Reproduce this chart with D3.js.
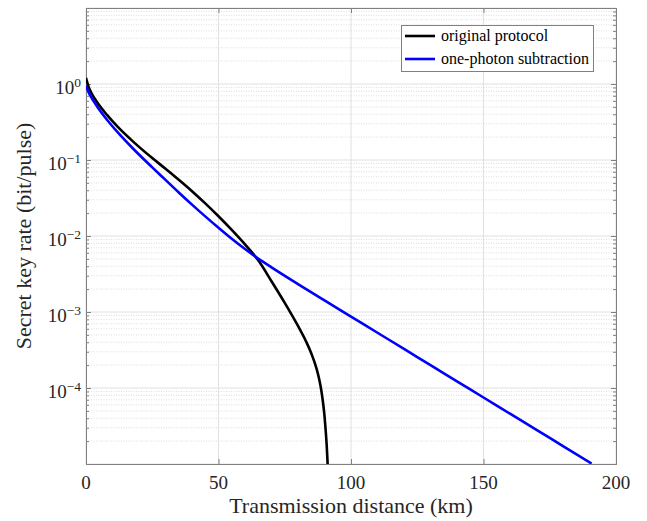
<!DOCTYPE html>
<html>
<head>
<meta charset="utf-8">
<script src="https://cdn.jsdelivr.net/npm/d3@7"></script>
<style>
  body { margin: 0; background: #fff; }
</style>
</head>
<body>
<svg id="chart" width="647" height="521"></svg>
<script>
// ---- data ----
const origDistance = [0, 1, 2, 4, 8, 12, 18, 25, 30, 35, 40, 45, 50, 55, 60, 65, 70, 75, 80, 83, 85, 87, 88, 88.8, 89.5, 90.0, 90.4, 90.8, 91.1, 91.3];
const origLogRate = [0.08, -0.04, -0.115, -0.23, -0.41, -0.565, -0.765, -0.975, -1.115, -1.26, -1.41, -1.57, -1.74, -1.92, -2.11, -2.32, -2.595, -2.88, -3.184, -3.384, -3.543, -3.746, -3.886, -4.032, -4.207, -4.368, -4.539, -4.737, -4.937, -5.101];

const subDistance = [0, 1, 2, 4, 8, 12, 18, 25, 30, 35, 40, 45, 50, 55, 60, 65, 70, 80, 90, 100, 110, 120, 130, 140, 150, 160, 170, 180, 190.8];
const subLogRate = [-0.02, -0.11, -0.175, -0.285, -0.473, -0.637, -0.859, -1.097, -1.262, -1.427, -1.587, -1.742, -1.892, -2.037, -2.172, -2.297, -2.412, -2.632, -2.847, -3.06, -3.273, -3.486, -3.699, -3.912, -4.125, -4.338, -4.551, -4.764, -4.994];

const seriesNames = ["original protocol", "one-photon subtraction"];
const seriesColors = ["#000000", "#0000ff"];
const xTicks = [0, 50, 100, 150, 200];
const yTickExps = [0, -1, -2, -3, -4];
const xLabel = "Transmission distance (km)";
const yLabel = "Secret key rate (bit/pulse)";

// ---- layout ----
const FONT = "'Liberation Serif', 'Times New Roman', serif";
const svg = d3.select("#chart");
const L = 86, R = 616, T = 8, B = 464;
const x = d3.scaleLinear().domain([0, 200]).range([L, R]);
const y = d3.scaleLog().domain([1e-5, 1e1]).range([B, T]);

// minor gridlines (dotted)
const minor = [];
for (let e = -5; e < 1; e++) for (let m = 2; m <= 9; m++) minor.push(m * Math.pow(10, e));
svg.append("g").selectAll("line").data(minor).join("line")
  .attr("x1", L).attr("x2", R)
  .attr("y1", d => y(d)).attr("y2", d => y(d))
  .attr("stroke", "#d6d6d6").attr("stroke-width", 0.8).attr("stroke-dasharray", "1,1.5");

// major gridlines
const majors = d3.range(-5, 2).map(e => Math.pow(10, e));
svg.append("g").selectAll("line").data(majors).join("line")
  .attr("x1", L).attr("x2", R)
  .attr("y1", d => y(d)).attr("y2", d => y(d))
  .attr("stroke", "#e0e0e0").attr("stroke-width", 1);
svg.append("g").selectAll("line").data(xTicks).join("line")
  .attr("x1", d => x(d)).attr("x2", d => x(d))
  .attr("y1", T).attr("y2", B)
  .attr("stroke", "#e0e0e0").attr("stroke-width", 1);

// axes (ticks inward) on all four sides
const axisColor = "#808080";
const bottomAxis = d3.axisBottom(x).tickValues(xTicks).tickSize(-5).tickFormat("");
const topAxis = d3.axisTop(x).tickValues(xTicks).tickSize(-5).tickFormat("");
const leftMajor = d3.axisLeft(y).tickValues(majors).tickSize(-5).tickFormat("");
const rightMajor = d3.axisRight(y).tickValues(majors).tickSize(-5).tickFormat("");
const leftMinor = d3.axisLeft(y).tickValues(minor).tickSize(-3).tickFormat("");
const rightMinor = d3.axisRight(y).tickValues(minor).tickSize(-3).tickFormat("");

function styleAxis(g) {
  g.selectAll("path").attr("stroke", axisColor).attr("stroke-width", 1);
  g.selectAll("line").attr("stroke", axisColor).attr("stroke-width", 1);
}
svg.append("g").attr("transform", `translate(0,${B})`).call(bottomAxis).call(styleAxis);
svg.append("g").attr("transform", `translate(0,${T})`).call(topAxis).call(styleAxis);
svg.append("g").attr("transform", `translate(${L},0)`).call(leftMajor).call(styleAxis);
svg.append("g").attr("transform", `translate(${R},0)`).call(rightMajor).call(styleAxis);
svg.append("g").attr("transform", `translate(${L},0)`).call(leftMinor).call(styleAxis);
svg.append("g").attr("transform", `translate(${R},0)`).call(rightMinor).call(styleAxis);

// x tick labels
svg.append("g").selectAll("text").data(xTicks).join("text")
  .attr("x", d => x(d)).attr("y", B + 25)
  .attr("text-anchor", "middle").attr("font-size", 19)
  .attr("font-family", FONT).attr("fill", "#262626")
  .text(d => d);

// y tick labels with superscripts
const yl = svg.append("g").selectAll("text").data(yTickExps).join("text")
  .attr("x", 81).attr("y", d => y(Math.pow(10, d)) + 10)
  .attr("text-anchor", "end").attr("font-size", 19)
  .attr("font-family", FONT).attr("fill", "#262626");
yl.append("tspan").text("10");
yl.append("tspan").attr("dy", -7).attr("font-size", 13.5)
  .text(d => d === 0 ? "0" : "\u2212" + Math.abs(d));

// axis labels
svg.append("text").attr("x", (L + R) / 2).attr("y", 513)
  .attr("text-anchor", "middle").attr("font-size", 22)
  .attr("font-family", FONT).attr("fill", "#262626").text(xLabel);
svg.append("text").attr("transform", `translate(31,${(T + B) / 2}) rotate(-90)`)
  .attr("text-anchor", "middle").attr("font-size", 22)
  .attr("font-family", FONT).attr("fill", "#262626").text(yLabel);

// curves
svg.append("clipPath").attr("id", "plotclip").append("rect")
  .attr("x", L).attr("y", T).attr("width", R - L).attr("height", B - T);
const line = d3.line().x(d => x(d[0])).y(d => y(Math.pow(10, d[1]))).curve(d3.curveMonotoneX);
const series = [
  d3.zip(origDistance, origLogRate),
  d3.zip(subDistance, subLogRate)
];
svg.append("g").attr("clip-path", "url(#plotclip)").selectAll("path").data(series).join("path")
  .attr("d", line).attr("fill", "none")
  .attr("stroke", (d, i) => seriesColors[i]).attr("stroke-width", 2.6)
  .attr("stroke-linejoin", "round");

// legend
const lg = svg.append("g");
lg.append("rect").attr("x", 401.5).attr("y", 25.5).attr("width", 192).attr("height", 46)
  .attr("fill", "#fff").attr("stroke", "#808080").attr("stroke-width", 1);
const rows = lg.selectAll("g.row").data(seriesNames).join("g").attr("class", "row")
  .attr("transform", (d, i) => `translate(0,${36 + i * 23})`);
rows.append("line").attr("x1", 405).attr("x2", 435).attr("y1", 0).attr("y2", 0)
  .attr("stroke", (d, i) => seriesColors[i]).attr("stroke-width", 2.6);
rows.append("text").attr("x", 441).attr("y", 5).attr("font-size", 16)
  .attr("font-family", FONT).attr("fill", "#000").text(d => d);
</script>
</body>
</html>
